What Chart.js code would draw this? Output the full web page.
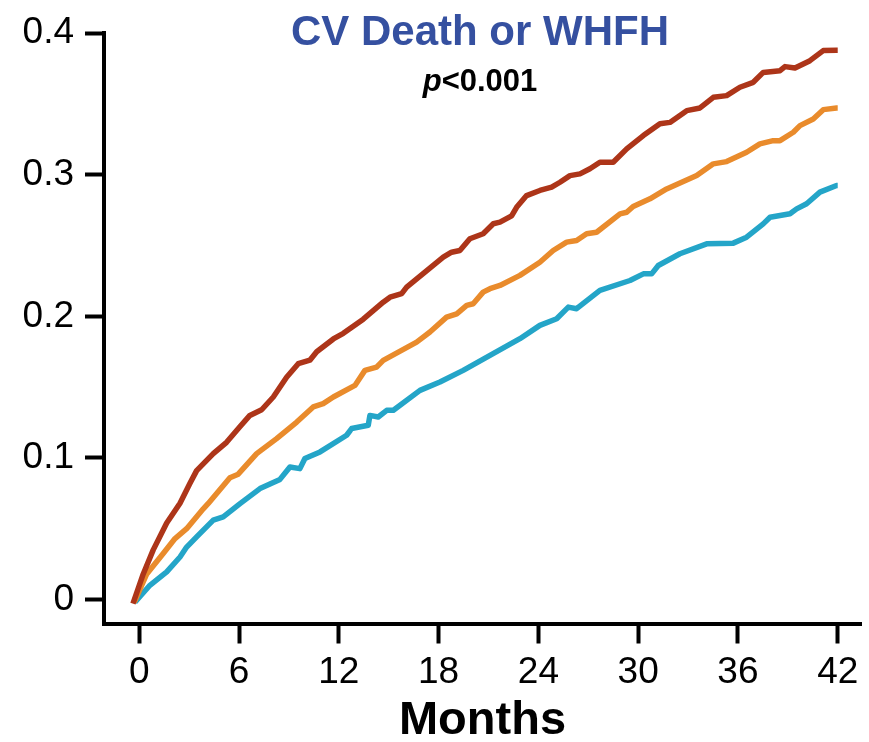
<!DOCTYPE html>
<html>
<head>
<meta charset="utf-8">
<script src="https://cdn.jsdelivr.net/npm/chart.js@4/dist/chart.umd.min.js"></script>
<style>
  html, body { margin: 0; padding: 0; background: #fff; }
  #wrap { width: 869px; height: 742px; }
</style>
</head>
<body>
<div id="wrap"><canvas id="kmChart" width="869" height="742"></canvas></div>
<script>
// cumulative incidence, read per month of follow-up
var redMonths = [-0.38, 0.24, 0.84, 1.65, 2.45, 3.05, 3.45, 4.45, 5.25, 6.05, 6.65, 7.36, 8.06, 8.86, 9.56, 10.26, 10.67, 11.67, 12.27, 13.47, 14.67, 15.08, 15.78, 16.08, 18.28, 18.78, 19.28, 19.88, 20.68, 21.29, 21.69, 22.39, 22.69, 23.29, 24.09, 24.8, 25.3, 25.9, 26.5, 27.1, 27.7, 28.5, 29.31, 30.31, 31.31, 31.91, 32.92, 33.72, 34.52, 35.32, 36.12, 36.92, 37.52, 38.53, 38.83, 39.43, 40.33, 41.13, 41.93, 42.0];
var redRisk = [-0.003, 0.018, 0.035, 0.054, 0.068, 0.082, 0.091, 0.103, 0.111, 0.122, 0.130, 0.134, 0.143, 0.157, 0.1665, 0.169, 0.175, 0.184, 0.188, 0.198, 0.210, 0.2135, 0.216, 0.2206, 0.2418, 0.2453, 0.2465, 0.2548, 0.2583, 0.2654, 0.2665, 0.271, 0.277, 0.2853, 0.2889, 0.2912, 0.2947, 0.2994, 0.3006, 0.3042, 0.3088, 0.3088, 0.3183, 0.3277, 0.336, 0.337, 0.3453, 0.3472, 0.3547, 0.3559, 0.3618, 0.3653, 0.3723, 0.3735, 0.3764, 0.3754, 0.3806, 0.3877, 0.388, 0.388];

var orangeMonths = [-0.3, 0.45, 1.44, 2.15, 2.85, 3.85, 4.15, 5.45, 5.95, 7.06, 8.26, 9.47, 10.46, 11.06, 11.67, 12.97, 13.57, 14.27, 14.67, 16.68, 17.48, 18.48, 19.09, 19.69, 20.08, 20.68, 21.09, 21.69, 22.89, 24.09, 24.89, 25.7, 26.3, 26.9, 27.5, 28.91, 29.31, 29.7, 30.71, 31.71, 33.52, 34.52, 35.32, 36.52, 37.32, 38.12, 38.53, 39.33, 39.73, 40.53, 41.13, 41.93, 42.0];
var orangeRisk = [-0.002, 0.018, 0.0325, 0.043, 0.050, 0.064, 0.0678, 0.086, 0.0885, 0.103, 0.1136, 0.1253, 0.136, 0.1383, 0.143, 0.1512, 0.1618, 0.1641, 0.1689, 0.1818, 0.1889, 0.1994, 0.2018, 0.2077, 0.2089, 0.2171, 0.2195, 0.2218, 0.2289, 0.2382, 0.2465, 0.2524, 0.2536, 0.2583, 0.2594, 0.2724, 0.2735, 0.2776, 0.283, 0.29, 0.2994, 0.3077, 0.3093, 0.3159, 0.3218, 0.3241, 0.3241, 0.33, 0.3347, 0.3394, 0.346, 0.3472, 0.3472];

var tealMonths = [-0.26, 0.64, 1.65, 2.45, 2.85, 3.45, 4.45, 5.05, 6.06, 7.26, 8.46, 9.06, 9.66, 9.96, 10.87, 12.47, 12.77, 13.77, 13.87, 14.37, 14.88, 15.28, 16.88, 18.08, 19.48, 21.09, 22.89, 24.09, 25.1, 25.8, 26.3, 27.7, 29.51, 30.31, 30.81, 31.21, 32.51, 34.12, 35.72, 36.52, 37.52, 37.93, 39.13, 39.53, 40.13, 40.93, 41.93, 42.0];
var tealRisk = [-0.002, 0.010, 0.0195, 0.030, 0.037, 0.0442, 0.056, 0.0583, 0.0677, 0.0783, 0.0848, 0.0936, 0.0924, 0.0995, 0.1042, 0.116, 0.1207, 0.123, 0.130, 0.1289, 0.1336, 0.1336, 0.1477, 0.1536, 0.1618, 0.1724, 0.1842, 0.1936, 0.1983, 0.2065, 0.2054, 0.2183, 0.2253, 0.230, 0.230, 0.2359, 0.2442, 0.2512, 0.2517, 0.2559, 0.2653, 0.27, 0.2724, 0.2759, 0.2795, 0.2877, 0.2924, 0.2924];

var xTicks = [0, 6, 12, 18, 24, 30, 36, 42];
var yTicks = [0, 0.1, 0.2, 0.3, 0.4];
var yTickLabels = ['0', '0.1', '0.2', '0.3', '0.4'];

var titleText = 'CV Death or WHFH';
var pLabel = 'p';
var pValue = '<0.001';

var fontFamily = '"Liberation Sans", Arial, sans-serif';

function toPoints(months, risk) {
    return months.map(function (m, i) { return { x: m, y: risk[i] }; });
}

function curve(label, months, risk, color) {
    return {
        label: label,
        data: toPoints(months, risk),
        borderColor: color,
        borderWidth: 5.5,
        pointRadius: 0,
        tension: 0,
        borderJoinStyle: 'round',
        fill: false
    };
}

// title and p-value sit over the top of the plot area
var headerText = {
    id: 'headerText',
    afterDraw: function (chart) {
        var c = chart.ctx;
        var cx = 480;
        c.save();
        c.textBaseline = 'alphabetic';
        c.textAlign = 'center';
        c.fillStyle = '#3550a0';
        c.font = 'bold 42px ' + fontFamily;
        c.fillText(titleText, cx, 45);

        c.fillStyle = '#000';
        c.textAlign = 'left';
        c.font = 'italic bold 31px ' + fontFamily;
        var wp = c.measureText(pLabel).width;
        c.font = 'bold 31px ' + fontFamily;
        var wv = c.measureText(pValue).width;
        var x0 = cx - (wp + wv) / 2;
        c.font = 'italic bold 31px ' + fontFamily;
        c.fillText(pLabel, x0, 91);
        c.font = 'bold 31px ' + fontFamily;
        c.fillText(pValue, x0 + wp, 91);
        c.restore();
    }
};

var ctx = document.getElementById('kmChart').getContext('2d');
var chart = new Chart(ctx, {
    type: 'line',
    data: {
        datasets: [
            curve('Group A', redMonths, redRisk, '#ad3519'),
            curve('Group B', orangeMonths, orangeRisk, '#e98b2c'),
            curve('Group C', tealMonths, tealRisk, '#24a5c8')
        ]
    },
    options: {
        responsive: false,
        animation: false,
        layout: { padding: { left: 0, right: 8, top: 32, bottom: 0 } },
        plugins: {
            legend: { display: false },
            tooltip: { enabled: false }
        },
        scales: {
            x: {
                type: 'linear',
                min: -2.12,
                max: 43.4,
                afterBuildTicks: function (scale) {
                    scale.ticks = xTicks.map(function (v) { return { value: v }; });
                },
                afterFit: function (scale) { scale.height = 118.5; },
                grid: {
                    drawOnChartArea: false,
                    drawTicks: true,
                    tickLength: 20,
                    tickWidth: 4,
                    tickColor: '#000'
                },
                border: { display: true, color: '#000', width: 4 },
                ticks: {
                    color: '#000',
                    padding: 7,
                    maxRotation: 0,
                    font: { family: fontFamily, size: 37 }
                },
                title: {
                    display: true,
                    text: 'Months',
                    color: '#000',
                    padding: { top: 0, bottom: -3 },
                    font: { family: fontFamily, size: 47, weight: 'bold', lineHeight: 1 }
                }
            },
            y: {
                type: 'linear',
                min: -0.017,
                max: 0.4,
                afterBuildTicks: function (scale) {
                    scale.ticks = yTicks.map(function (v) { return { value: v }; });
                },
                afterFit: function (scale) { scale.width = 104; },
                grid: {
                    drawOnChartArea: false,
                    drawTicks: true,
                    tickLength: 19,
                    tickWidth: 4,
                    tickColor: '#000'
                },
                border: { display: true, color: '#000', width: 4 },
                ticks: {
                    color: '#000',
                    padding: 11,
                    font: { family: fontFamily, size: 37 },
                    callback: function (value, index) { return yTickLabels[index]; }
                }
            }
        }
    },
    plugins: [headerText]
});
</script>
</body>
</html>
